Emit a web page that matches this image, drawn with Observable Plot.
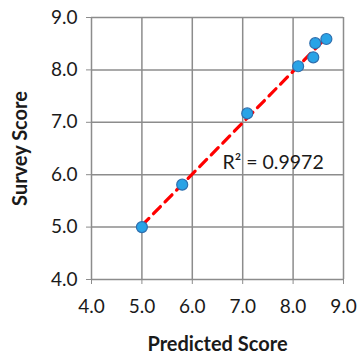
<!DOCTYPE html>
<html>
<head>
<meta charset="utf-8">
<script src="https://cdn.jsdelivr.net/npm/d3@7"></script>
<script src="https://cdn.jsdelivr.net/npm/@observablehq/plot@0.6"></script>
<style>
  html, body { margin: 0; padding: 0; background: #fff; }
  #chart svg { display: block; }
  #chart svg [aria-label="x-axis label"] text,
  #chart svg [aria-label="y-axis label"] text { font-weight: bold; font-size: 20px; }
</style>
</head>
<body>
<div id="chart"></div>
<script>
const predicted = [5.0, 5.8, 7.09, 8.1, 8.4, 8.44, 8.66];
const survey    = [5.0, 5.81, 7.17, 8.07, 8.24, 8.51, 8.59];
const ticks = [4, 5, 6, 7, 8, 9];
const xTitle = "Predicted Score";
const yTitle = "Survey Score";
const r2Label = "R² = 0.9972";

const data = predicted.map((p, i) => ({predicted: p, survey: survey[i]}));

const chart = Plot.plot({
  width: 358,
  height: 355,
  marginLeft: 91,
  marginRight: 15,
  marginTop: 17,
  marginBottom: 76,
  style: {fontFamily: "Lato, 'Open Sans', sans-serif", fontSize: "19px", color: "#1a1a1a", background: "#fff"},
  x: {domain: [4, 9]},
  y: {domain: [4, 9]},
  marks: [
    Plot.gridX(ticks, {stroke: "#8c8c8c", strokeOpacity: 1, strokeWidth: 1.5}),
    Plot.gridY(ticks, {stroke: "#8c8c8c", strokeOpacity: 1, strokeWidth: 1.5}),
    Plot.axisX({ticks, tickFormat: d3.format(".1f"), tickSize: 5, tickPadding: 15, stroke: "#8c8c8c",
      label: xTitle, labelAnchor: "center", labelArrow: "none", labelOffset: 71}),
    Plot.axisY({ticks, tickFormat: d3.format(".1f"), tickSize: 5, tickPadding: 9, stroke: "#8c8c8c",
      label: yTitle, labelAnchor: "center", labelArrow: "none", labelOffset: 79}),
    Plot.linearRegressionY(data, {x: "predicted", y: "survey", ci: 0, stroke: "#ff0000",
      strokeWidth: 3.2, strokeDasharray: "10,6.5", strokeOpacity: 1}),
    Plot.dot(data, {x: "predicted", y: "survey", r: 5.5, fill: "#29a3e6", stroke: "#2f6fae", strokeWidth: 1.2}),
    Plot.text([r2Label], {x: 6.6, y: 6.22, text: d => d, textAnchor: "start", fontSize: 19.5, fill: "#1a1a1a"})
  ]
});
document.getElementById("chart").appendChild(chart);
</script>
</body>
</html>
